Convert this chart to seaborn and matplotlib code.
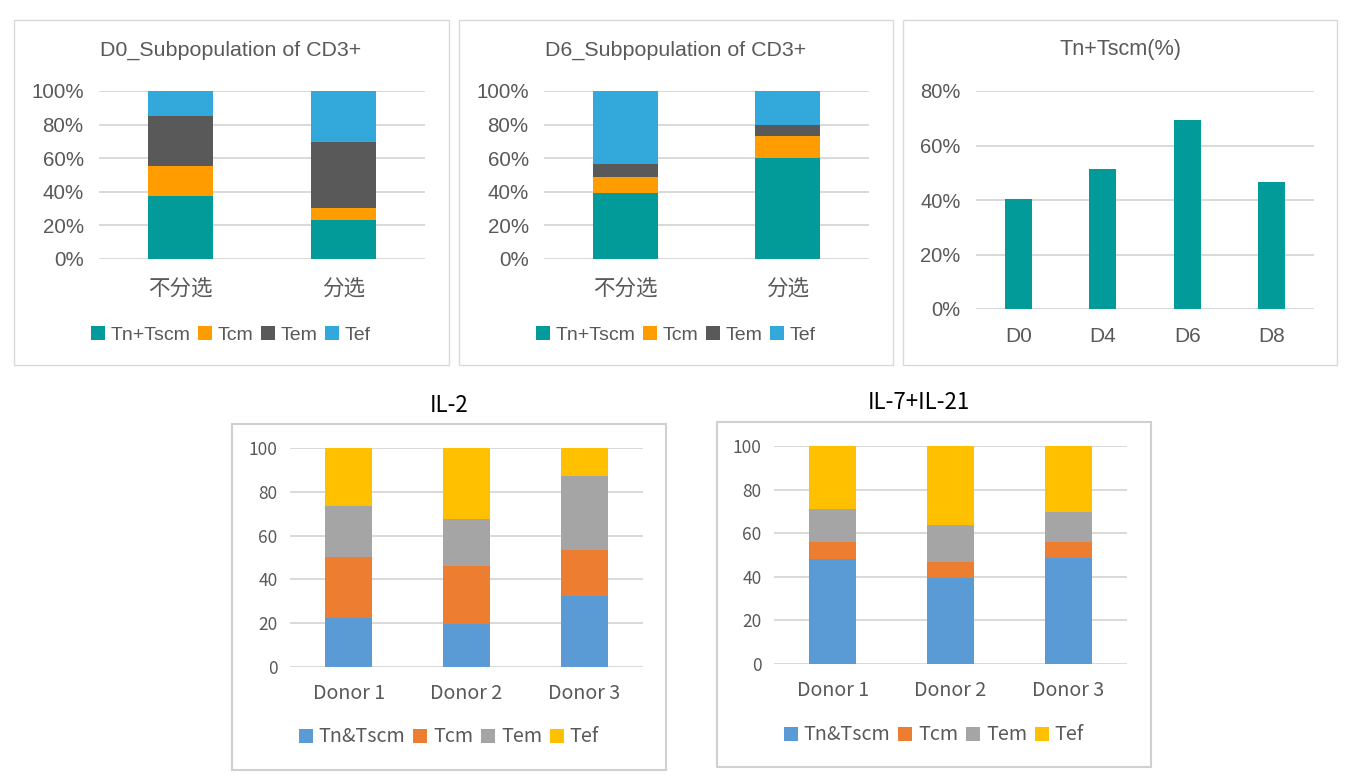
import matplotlib
matplotlib.use("Agg")
import matplotlib.pyplot as plt
from matplotlib.patches import Patch, Rectangle
from matplotlib.ticker import FuncFormatter
import numpy as np
import seaborn as sns

W, H = 1352, 778

# --- data ---
top_subsets = ["Tn+Tscm", "Tcm", "Tem", "Tef"]
bottom_subsets = ["Tn&Tscm", "Tcm", "Tem", "Tef"]

sort_groups = ["不分选", "分选"]
d0_tn = [37.4, 23.1]
d0_tcm = [17.9, 7.1]
d0_tem = [29.8, 39.4]
d0_tef = [14.9, 30.4]

d6_tn = [39.2, 60.0]
d6_tcm = [9.5, 13.2]
d6_tem = [7.8, 6.5]
d6_tef = [43.5, 20.3]

days = ["D0", "D4", "D6", "D8"]
tn_by_day = [40.2, 51.3, 69.4, 46.6]

donors = ["Donor 1", "Donor 2", "Donor 3"]
il2_tn = [22.2, 19.5, 32.3]
il2_tcm = [27.9, 26.5, 21.3]
il2_tem = [23.3, 21.4, 33.5]
il2_tef = [26.6, 32.6, 12.9]

il7_tn = [48.2, 39.4, 48.6]
il7_tcm = [7.8, 7.4, 7.4]
il7_tem = [15.1, 17.0, 13.7]
il7_tef = [28.9, 36.2, 30.3]

top_colors = ["#039A9A", "#FF9C00", "#595959", "#33A8DB"]
bottom_colors = ["#5B9BD5", "#ED7D31", "#A5A5A5", "#FFC000"]

TOP_FONT = ["Liberation Sans", "Noto Sans CJK SC", "DejaVu Sans"]
BOT_FONT = ["Noto Sans CJK SC", "DejaVu Sans"]
TEXT_GRAY = "#595959"
GRID = "#D9D9D9"

sns.set_theme(style="white")
plt.rcParams["font.family"] = TOP_FONT

fig = plt.figure(figsize=(W / 100, H / 100), dpi=100)
fig.patch.set_facecolor("white")


def px_axes(x0, y0, x1, y1):
    return fig.add_axes([x0 / W, 1 - y1 / H, (x1 - x0) / W, (y1 - y0) / H])


def px_box(x0, y0, x1, y1, color, lw):
    fig.patches.append(Rectangle((x0 / W, 1 - y1 / H), (x1 - x0) / W, (y1 - y0) / H,
                                 transform=fig.transFigure, fill=False,
                                 edgecolor=color, linewidth=lw, zorder=0))


def px_text(x, y, s, size, color, family, **kw):
    fig.text(x / W, 1 - y / H, s, ha="center", va="center", fontsize=size,
             color=color, family=family, **kw)


def px_legend(cx, cy, labels, colors, size, family):
    handles = [Patch(facecolor=c, edgecolor="none") for c in colors]
    fig.legend(handles, labels, loc="center", bbox_to_anchor=(cx / W, 1 - cy / H),
               ncol=len(labels), frameon=False, handlelength=0.7, handleheight=0.7,
               handletextpad=0.3, columnspacing=0.4, labelcolor=TEXT_GRAY,
               prop={"family": family, "size": size})


def stacked(ax, cats, layers, colors, width):
    cum = np.cumsum(np.array(layers, dtype=float), axis=0)
    # draw the tallest cumulative first so lower layers sit on top
    for i in reversed(range(len(layers))):
        sns.barplot(x=cats, y=cum[i], color=colors[i], width=width, ax=ax,
                    saturation=1, errorbar=None, linewidth=0, zorder=2)


def style(ax, ymax, step, fmt, family, ysize, xsize, xpad, ypad):
    ax.set_ylim(0, ymax)
    ax.set_yticks(np.arange(0, ymax + 0.1, step))
    ax.yaxis.set_major_formatter(FuncFormatter(fmt))
    ax.set_axisbelow(True)
    ax.grid(axis="y", color=GRID, linewidth=1.4)
    ax.grid(axis="x", visible=False)
    for s in ax.spines.values():
        s.set_visible(False)
    ax.set_facecolor("none")
    ax.set_xlabel("")
    ax.set_ylabel("")
    ax.tick_params(axis="both", length=0, colors=TEXT_GRAY)
    ax.tick_params(axis="x", pad=xpad, labelsize=xsize)
    ax.tick_params(axis="y", pad=ypad, labelsize=ysize)
    for lab in ax.get_xticklabels() + ax.get_yticklabels():
        lab.set_family(family)


pct = lambda v, _: f"{v:.0f}%"
num = lambda v, _: f"{v:.0f}"

# --- top row panel frames ---
for x0, x1 in [(14, 449), (459, 893), (903, 1337)]:
    px_box(x0, 20, x1, 365, "#D9D9D9", 1.0)

# D0 subpopulation
ax1 = px_axes(99, 91, 425, 259)
stacked(ax1, sort_groups, [d0_tn, d0_tcm, d0_tem, d0_tef], top_colors, 0.4)
style(ax1, 100, 20, pct, TOP_FONT, 14.8, 15.5, 14, 11)
px_text(231, 50, "D0_Subpopulation of CD3+", 15.4, TEXT_GRAY, TOP_FONT)
px_legend(231, 335, top_subsets, top_colors, 14, TOP_FONT)

# D6 subpopulation
ax2 = px_axes(544, 91, 869, 259)
stacked(ax2, sort_groups, [d6_tn, d6_tcm, d6_tem, d6_tef], top_colors, 0.4)
style(ax2, 100, 20, pct, TOP_FONT, 14.8, 15.5, 14, 11)
px_text(676, 50, "D6_Subpopulation of CD3+", 15.4, TEXT_GRAY, TOP_FONT)
px_legend(676, 335, top_subsets, top_colors, 14, TOP_FONT)

# Tn+Tscm over days
ax3 = px_axes(976, 91, 1314, 309)
sns.barplot(x=days, y=tn_by_day, color=top_colors[0], width=0.32, ax=ax3,
            saturation=1, errorbar=None, linewidth=0, zorder=2)
style(ax3, 80, 20, pct, TOP_FONT, 14.5, 15, 13, 11)
px_text(1120, 50, "Tn+Tscm(%)", 15.6, TEXT_GRAY, TOP_FONT)

# --- bottom row ---
px_box(232, 424, 666, 770, "#D0D0D0", 1.5)
px_box(717, 422, 1151, 767, "#D0D0D0", 1.5)

ax4 = px_axes(290, 448, 643, 667)
stacked(ax4, donors, [il2_tn, il2_tcm, il2_tem, il2_tef], bottom_colors, 0.4)
style(ax4, 100, 20, num, BOT_FONT, 12.5, 14.2, 11.5, 9)
px_text(449, 405, "IL-2", 16, "black", BOT_FONT)
px_legend(449, 737, bottom_subsets, bottom_colors, 14.2, BOT_FONT)

ax5 = px_axes(774, 446, 1127, 664)
stacked(ax5, donors, [il7_tn, il7_tcm, il7_tem, il7_tef], bottom_colors, 0.4)
style(ax5, 100, 20, num, BOT_FONT, 12.5, 14.2, 11.5, 9)
px_text(919, 403, "IL-7+IL-21", 16, "black", BOT_FONT)
px_legend(934, 735, bottom_subsets, bottom_colors, 14.2, BOT_FONT)

fig.savefig("out.png", dpi=100, facecolor="white")
